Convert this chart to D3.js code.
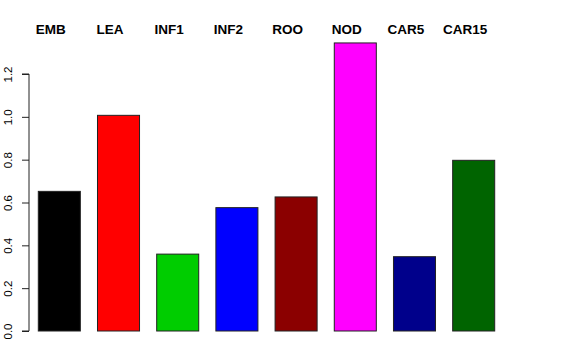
<!DOCTYPE html>
<html>
<head>
<meta charset="utf-8">
<script src="https://cdn.jsdelivr.net/npm/d3@7"></script>
<style>
  body { margin: 0; background: #fff; }
  svg { display: block; font-family: "Liberation Sans", Arial, Helvetica, sans-serif; }
</style>
</head>
<body>
<div id="chart"></div>
<script>
// data
const categories = ['EMB', 'LEA', 'INF1', 'INF2', 'ROO', 'NOD', 'CAR5', 'CAR15']
const values = [0.652, 1.007, 0.359, 0.576, 0.626, 1.345, 0.347, 0.797]
const colors = ['#000000', '#ff0000', '#00cd00', '#0000ff', '#8b0000', '#ff00ff', '#00008b', '#006400']
const yTicks = [0, 0.2, 0.4, 0.6, 0.8, 1.0, 1.2]

const width = 576
const height = 360

const svg = d3.select('#chart').append('svg')
  .attr('width', width)
  .attr('height', height)

// Scales
const xScale = d3.scaleBand()
  .domain(categories)
  .range([38.3, 494.7])
  .paddingInner(0.29)
  .paddingOuter(0)

const yScale = d3.scaleLinear()
  .domain([0, 1.2])
  .range([331, 74])

// Y axis
const yAxis = d3.axisLeft(yScale)
  .tickValues(yTicks)
  .tickFormat(d3.format('.1f'))
  .tickSize(7)

const gy = svg.append('g')
  .attr('transform', 'translate(29, 0)')
  .call(yAxis)

gy.select('.domain')
  .attr('d', `M-7,${yScale(0)}H0V${yScale(1.2)}H-7`)
  .attr('stroke', '#222')
gy.selectAll('.tick line').attr('stroke', '#222')
gy.selectAll('.tick text')
  .attr('transform', 'rotate(-90)')
  .attr('x', 0)
  .attr('y', -17)
  .attr('dy', 0)
  .attr('text-anchor', 'middle')
  .attr('font-size', 11.5)
  .attr('font-family', '"Liberation Sans", Arial, Helvetica, sans-serif')
  .attr('fill', '#000')

// Bars
svg.selectAll('rect.bar')
    .data(categories)
  .enter()
    .append('rect')
    .attr('class', 'bar')
    .attr('x', d => xScale(d))
    .attr('y', (d, i) => yScale(values[i]))
    .attr('width', xScale.bandwidth())
    .attr('height', (d, i) => yScale(0) - yScale(values[i]))
    .attr('fill', (d, i) => colors[i])
    .attr('stroke', '#222')
    .attr('stroke-width', 1)

// Category labels on top
svg.selectAll('text.cat')
    .data(categories)
  .enter()
    .append('text')
    .attr('class', 'cat')
    .attr('x', d => xScale(d) + xScale.bandwidth() / 2 - 8.5)
    .attr('y', 34)
    .attr('text-anchor', 'middle')
    .attr('font-size', 13.5)
    .attr('font-weight', 'bold')
    .text(d => d)
</script>
</body>
</html>
